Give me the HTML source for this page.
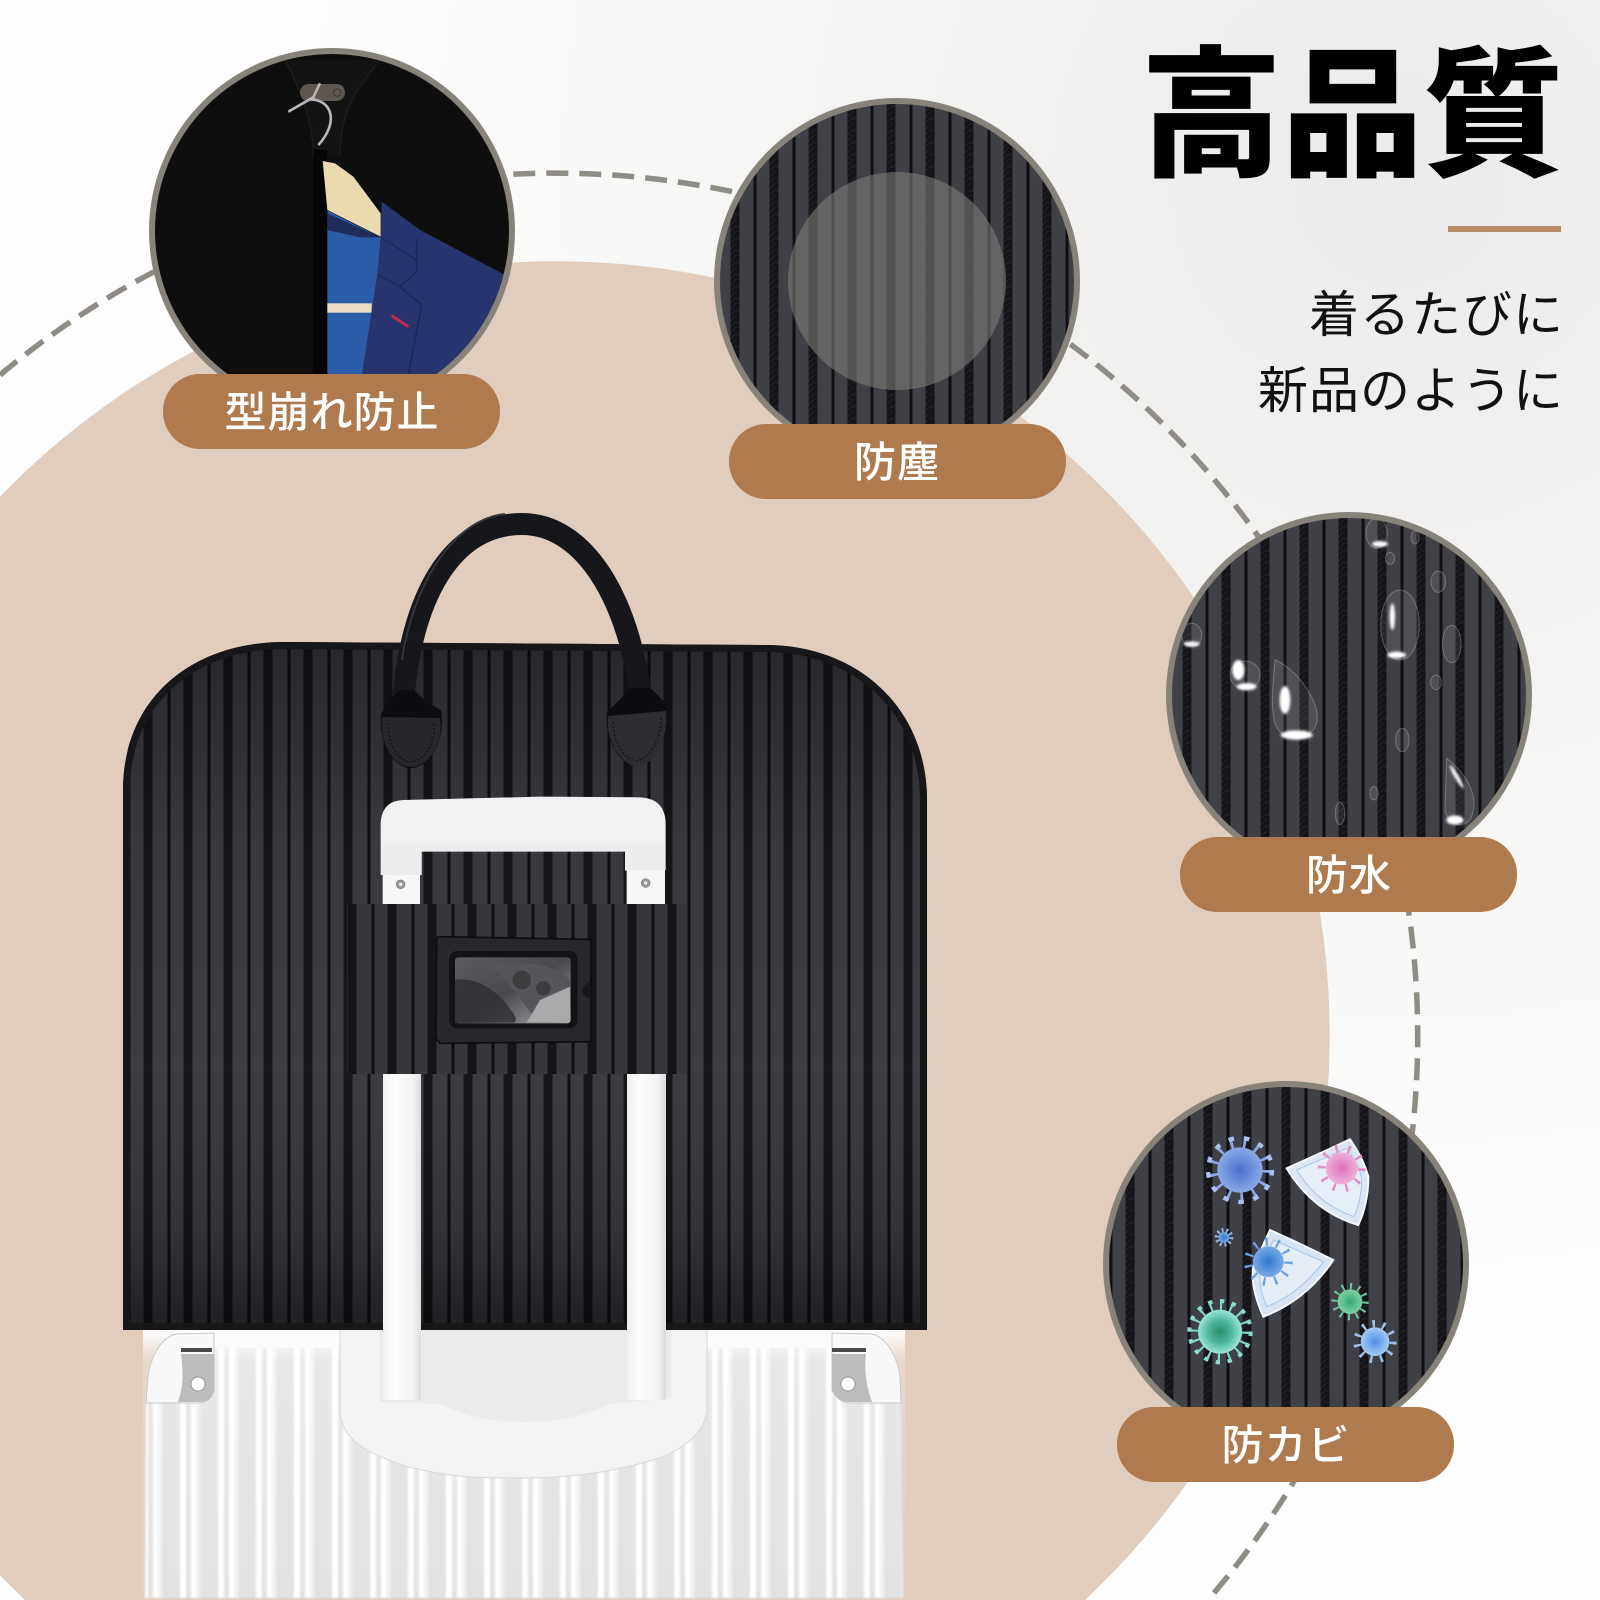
<!DOCTYPE html>
<html lang="ja"><head><meta charset="utf-8"><title>高品質</title>
<style>html,body{margin:0;padding:0;background:#f6f6f5;width:1600px;height:1600px;overflow:hidden}svg{display:block}
text{font-family:"Liberation Sans","Noto Sans CJK JP",sans-serif}</style></head>
<body>
<svg xmlns="http://www.w3.org/2000/svg" width="1600" height="1600" viewBox="0 0 1600 1600">
<defs>
<radialGradient id="bg" gradientUnits="userSpaceOnUse" cx="1400" cy="180" r="1100"><stop offset="0" stop-color="#ecebe9"/><stop offset=".55" stop-color="#f5f5f4"/><stop offset="1" stop-color="#fdfdfd"/></radialGradient>
<pattern id="fab" patternUnits="userSpaceOnUse" width="39" height="12">
<rect width="39" height="12" fill="#404047"/><rect width="9" height="12" fill="#131318"/><rect x="23" width="3" height="12" fill="#0e0e13"/>
<path d="M0,3 L3,0 M3,6 L6,3 M0,9 L3,6 M6,12 L9,9 M3,12 L6,9" stroke="#222228" stroke-width="1"/>
</pattern>
<pattern id="bagfab" patternUnits="userSpaceOnUse" width="40" height="12" x="143.5">
<rect width="40" height="12" fill="#3e3e44"/><rect width="9" height="12" fill="#17171c"/><rect x="24" width="3" height="12" fill="#0f0f13"/>
</pattern>
<linearGradient id="bagshade" x1="0" y1="0" x2="0" y2="1"><stop offset="0" stop-color="#000" stop-opacity=".36"/><stop offset=".3" stop-color="#000" stop-opacity=".1"/><stop offset=".62" stop-color="#000" stop-opacity=".02"/><stop offset=".85" stop-color="#000" stop-opacity=".18"/><stop offset="1" stop-color="#000" stop-opacity=".5"/></linearGradient>
<pattern id="rib" patternUnits="userSpaceOnUse" width="38" height="10" x="370">
<rect width="38" height="10" fill="#e2e2e2"/><rect width="6" height="10" fill="#fff"/><rect x="11" width="5" height="10" fill="#fff"/><rect x="16" width="4" height="10" fill="#f2f2f2"/>
</pattern>
<linearGradient id="fade" x1="0" y1="0" x2="0" y2="1"><stop offset="0" stop-color="#fff" stop-opacity=".95"/><stop offset=".12" stop-color="#fff" stop-opacity=".2"/><stop offset="1" stop-color="#fff" stop-opacity="0"/></linearGradient>
<linearGradient id="post" x1="0" y1="0" x2="1" y2="0"><stop offset="0" stop-color="#efefef"/><stop offset=".3" stop-color="#fefefe"/><stop offset=".8" stop-color="#f2f2f2"/><stop offset="1" stop-color="#dcdcdc"/></linearGradient>
<linearGradient id="win" x1="0" y1="0" x2="1" y2="1"><stop offset="0" stop-color="#5c5c60"/><stop offset=".5" stop-color="#4a4a4e"/><stop offset="1" stop-color="#a8a8aa"/></linearGradient>
<radialGradient id="vb"><stop offset="0" stop-color="#4a72cc"/><stop offset="1" stop-color="#8aa8e6"/></radialGradient>
<radialGradient id="vp"><stop offset="0" stop-color="#e070bc"/><stop offset="1" stop-color="#eeb0da"/></radialGradient>
<radialGradient id="vm"><stop offset="0" stop-color="#2f78d0"/><stop offset="1" stop-color="#78aae6"/></radialGradient>
<radialGradient id="vt"><stop offset="0" stop-color="#2a8c68"/><stop offset=".5" stop-color="#4ab49a"/><stop offset="1" stop-color="#9ae6d8"/></radialGradient>
<radialGradient id="vg"><stop offset="0" stop-color="#3aa872"/><stop offset="1" stop-color="#7cd2a4"/></radialGradient>
<radialGradient id="vl"><stop offset="0" stop-color="#4a90e8"/><stop offset="1" stop-color="#a4cbf4"/></radialGradient>
<filter id="b1"><feGaussianBlur stdDeviation="1"/></filter>
<filter id="b3"><feGaussianBlur stdDeviation="4"/></filter>
<clipPath id="c1"><circle cx="332" cy="231" r="177"/></clipPath>
<clipPath id="bagclip"><path d="M123,790 C123,700 190,642 285,642 L765,645 C860,645 927,710 927,800 L927,1330 L123,1330 Z"/></clipPath>
</defs>

<rect width="1600" height="1600" fill="url(#bg)"/>
<path d="M0,496.5 A774,774 0 1 1 1085,1600 L25,1600 L0,1575.5 Z" fill="#e0cdbe"/>
<path d="M0,375 A863,863 0 0 1 1208,1600" fill="none" stroke="#8f8c85" stroke-width="5.5" stroke-dasharray="22 11"/>

<!-- suitcase -->
<clipPath id="page"><rect width="1600" height="1600"/></clipPath>
<path d="M145,1598 L146,1405 L148,1377 C152,1350 165,1335 180,1333 L880,1333 C892,1340 900,1360 901,1400 L903,1598 Z" fill="url(#rib)" filter="url(#b1)"/>
<rect x="143" y="1330" width="762" height="270" fill="url(#fade)"/>
<rect x="214" y="1330" width="618" height="18" fill="#fbfbfb"/>
<!-- corners -->
<path d="M146,1403 L148,1377 C152,1350 165,1335 178,1334 L214,1333 L214,1390 C212,1398 207,1402 200,1403 Z" fill="#f8f8f8" stroke="#c8c8c8"/>
<path d="M181,1354 L214,1354 L214,1390 C212,1398 207,1402 200,1402 L178,1402 C184,1385 183,1370 181,1354 Z" fill="#bcbcbc"/>
<rect x="181" y="1348" width="31" height="4" fill="#4a4a4a"/><circle cx="198" cy="1384" r="7" fill="#fff" stroke="#999"/>
<path d="M901,1403 L900,1377 C896,1350 883,1335 870,1334 L832,1333 L832,1390 C836,1398 841,1402 848,1403 Z" fill="#f8f8f8" stroke="#c8c8c8"/>
<path d="M866,1354 L832,1354 L832,1390 C836,1398 841,1402 848,1402 L872,1402 C866,1385 864,1370 866,1354 Z" fill="#bcbcbc"/>
<rect x="832" y="1348" width="34" height="4" fill="#4a4a4a"/><circle cx="848" cy="1384" r="7" fill="#fff" stroke="#999"/>
<!-- U base -->
<path d="M340,1325 L340,1415 C345,1445 375,1455 405,1466 C450,1478 480,1478 525,1478 C580,1478 620,1470 660,1458 C690,1445 705,1430 707,1410 L707,1325 Z" fill="#f3f3f3" stroke="#d8d8d8"/>
<path d="M380,1325 L380,1402 L440,1404 C470,1418 500,1422 525,1422 C555,1422 585,1416 610,1404 L671,1398 L671,1325 Z" fill="#ebebeb"/>

<!-- bag -->
<g clip-path="url(#bagclip)">
<rect x="123" y="640" width="804" height="692" fill="url(#bagfab)"/>
<rect x="123" y="640" width="804" height="692" fill="url(#bagshade)"/>
<path d="M123,790 C123,700 190,642 285,642 L765,645 C860,645 927,710 927,800 L927,1330 L123,1330 Z" fill="none" stroke="#17171a" stroke-width="14"/>
</g>

<!-- handle -->
<path d="M403,705 C410,600 450,524 522,524 C585,524 630,600 642,705" fill="none" stroke="#16171b" stroke-width="22"/>
<path d="M402,660 C412,590 450,520 505,514" fill="none" stroke="#33353b" stroke-width="2"/>
<path d="M381,714 Q392,696 400,690 L414,690 Q425,702 441,710 C446,740 430,768 411,768 C392,768 378,740 381,714 Z" fill="#0d0d11"/>
<path d="M382,717 L440,718 C444,742 429,767 411,767 C393,767 379,742 382,717 Z" fill="#26272b"/>
<path d="M388,723 C388,745 398,761 411,762 C424,761 435,745 434,723" fill="none" stroke="#0c0c0f" stroke-width="1" stroke-dasharray="2 2"/>
<path d="M607,712 Q620,700 630,688 L650,688 Q658,695 666,704 C670,735 650,767 637,767 C620,765 604,740 607,712 Z" fill="#0d0d11"/>
<path d="M608,716 L666,711 C669,737 654,766 637,767 C622,765 605,742 608,716 Z" fill="#2c2d31"/>
<path d="M613,722 C614,745 625,760 637,761 C650,758 662,738 661,716" fill="none" stroke="#0c0c0f" stroke-width="1" stroke-dasharray="2 2"/>

<!-- trolley -->
<rect x="383" y="1060" width="38" height="340" fill="url(#post)"/>
<rect x="627" y="1060" width="39" height="340" fill="url(#post)"/>
<g transform="translate(340,780) scale(.33333)">
<rect x="128" y="270" width="112" height="110" fill="#f6f6f6"/>
<rect x="860" y="260" width="115" height="125" fill="#f6f6f6"/>
<path d="M122,285 L122,130 Q125,62 190,60 L600,50 L900,52 Q975,55 977,130 L977,270 L855,272 L855,215 L245,215 L245,285 Z" fill="#f1f1f1"/>
<path d="M130,190 L970,190 L975,270 L855,270 L855,212 L245,212 L245,285 L125,285 Z" fill="#e9e9e9" opacity=".7"/>
<circle cx="182" cy="313" r="13" fill="#999" stroke="#777" stroke-width="2"/><circle cx="182" cy="313" r="5" fill="#eee"/>
<circle cx="917" cy="309" r="13" fill="#999" stroke="#777" stroke-width="2"/><circle cx="917" cy="309" r="5" fill="#eee"/>
</g>
<!-- patch -->
<clipPath id="patch"><rect x="347" y="904" width="340" height="170"/></clipPath>
<g clip-path="url(#patch)"><g transform="translate(4,0)"><rect x="340" y="900" width="350" height="180" fill="url(#bagfab)"/></g><rect x="340" y="900" width="350" height="180" fill="#000" opacity=".12"/></g>
<g transform="translate(340,780) scale(.33333)">
<path d="M290,478 Q290,470 300,470 L752,478 L752,785 L300,790 L288,775 Z" fill="#27272c" stroke="#0e0e11" stroke-width="5"/>
<rect x="328" y="513" width="384" height="232" rx="24" fill="#131316"/>
<rect x="345" y="532" width="347" height="198" rx="10" fill="url(#win)"/>
<path d="M345,600 C400,590 450,620 490,660 C520,700 540,720 520,728 L345,728 Z" fill="#2e2e32" opacity=".8"/>
<path d="M445,555 C520,540 640,545 690,600 L690,640 C640,660 600,700 590,720 C540,660 500,590 445,555 Z" fill="#55555a"/>
<circle cx="545" cy="600" r="28" fill="#333" opacity=".7"/><circle cx="610" cy="625" r="22" fill="#333" opacity=".7"/>
<path d="M600,660 L690,620 L690,725 L560,728 Z" fill="#aaaaac"/>
<path d="M752,608 A24,24 0 0 0 752,656" fill="#17171b"/>
</g>

<!-- circle 1 -->
<circle cx="332" cy="231" r="183" fill="#87827a"/>
<g clip-path="url(#c1)"><g transform="translate(100,0) scale(.33333)">
<rect x="100" y="100" width="1200" height="1100" fill="#0e0e0f"/>
<path d="M555,180 C620,300 640,400 640,470 L720,470 C720,320 780,260 840,180 Z" fill="#131314"/>
<path d="M555,180 C620,300 640,400 640,470 M840,180 C780,260 720,320 720,470" fill="none" stroke="#222223" stroke-width="3"/>
<rect x="600" y="252" width="135" height="51" rx="25" fill="#5e574f"/>
<circle cx="712" cy="278" r="11" fill="none" stroke="#3c3833" stroke-width="3"/>
<path d="M565,335 L640,292 L660,250 M630,298 C700,300 715,370 655,435" fill="none" stroke="#b7b7ba" stroke-width="8"/>
<rect x="640" y="450" width="42" height="680" fill="#050505"/>
<path d="M668,483 L705,490 L760,530 L842,640 L842,710 L682,630 Z" fill="#e9dab0"/>
<path d="M682,632 L842,712 L835,800 L790,1130 L682,1130 Z" fill="#2c5ca8"/>
<path d="M682,640 L842,712 L780,712 L682,690 Z" fill="#1f2b58"/>
<rect x="682" y="910" width="133" height="28" fill="#e9ddc6"/>
<path d="M845,605 L960,690 L1215,825 L1260,1000 L1100,1130 L785,1130 L835,800 L842,710 Z" fill="#28346e"/>
<path d="M950,715 L950,815 L900,860 L965,915 L925,1125" fill="none" stroke="#1e2858" stroke-width="5"/>
<path d="M835,825 L900,860 M842,712 L950,780" fill="none" stroke="#1e2858" stroke-width="4"/>
<path d="M875,947 L925,980" stroke="#c12a4c" stroke-width="9"/>
</g></g>

<!-- circle 2 -->
<circle cx="897" cy="281" r="183" fill="#87827a"/>
<clipPath id="c2"><circle cx="897" cy="281" r="177"/></clipPath>
<g clip-path="url(#c2)"><g transform="translate(886.5,0)"><rect x="-200" y="90" width="400" height="400" fill="url(#fab)"/></g></g>
<circle cx="897" cy="281" r="109" fill="#7c7974" opacity=".62"/>

<!-- circle 3 -->
<circle cx="1349" cy="695" r="183" fill="#87827a"/>
<clipPath id="c3"><circle cx="1349" cy="695" r="177"/></clipPath>
<g clip-path="url(#c3)"><g transform="translate(1338.5,0)"><rect x="-200" y="500" width="400" height="400" fill="url(#fab)"/></g>
<g transform="translate(1160,510) scale(.33333)" fill="#fff" fill-opacity=".08" stroke="#fff" stroke-opacity=".25" stroke-width="3">
<path d="M345,450 C340,520 330,580 345,640 C365,700 450,700 470,640 C485,570 400,470 345,450 Z"/>
<ellipse cx="720" cy="345" rx="58" ry="105"/><ellipse cx="875" cy="402" rx="28" ry="56"/>
<path d="M860,745 C930,800 960,870 930,930 C900,960 860,940 855,900 Z"/><ellipse cx="255" cy="495" rx="45" ry="42"/><ellipse cx="95" cy="375" rx="30" ry="35"/>
<ellipse cx="835" cy="215" rx="22" ry="32"/><ellipse cx="828" cy="517" rx="16" ry="22"/><ellipse cx="727" cy="690" rx="20" ry="35"/>
<ellipse cx="650" cy="70" rx="32" ry="45"/><ellipse cx="540" cy="910" rx="14" ry="34"/><ellipse cx="642" cy="850" rx="12" ry="20"/><ellipse cx="690" cy="145" rx="14" ry="18"/><ellipse cx="765" cy="82" rx="12" ry="20"/>
</g>
<g transform="translate(1160,510) scale(.33333)" fill="#fff" filter="url(#b3)">
<ellipse cx="375" cy="570" rx="16" ry="42"/><ellipse cx="410" cy="675" rx="48" ry="14"/><ellipse cx="235" cy="480" rx="18" ry="30"/><ellipse cx="260" cy="530" rx="30" ry="11"/>
<ellipse cx="710" cy="435" rx="28" ry="10"/><ellipse cx="697" cy="320" rx="8" ry="40"/><ellipse cx="885" cy="930" rx="26" ry="14"/><ellipse cx="660" cy="102" rx="24" ry="9"/><ellipse cx="95" cy="402" rx="24" ry="8"/><ellipse cx="890" cy="800" rx="6" ry="40" transform="rotate(-30 890 800)"/>
</g></g>

<!-- circle 4 -->
<circle cx="1286" cy="1264" r="183" fill="#87827a"/>
<clipPath id="c4"><circle cx="1286" cy="1264" r="177"/></clipPath>
<g clip-path="url(#c4)"><g transform="translate(1281.5,0)"><rect x="-200" y="1070" width="400" height="400" fill="url(#fab)"/></g></g>
<g transform="translate(1100,1080) scale(.33333)">
<path d="M560,265 Q650,225 750,178 Q790,235 805,290 Q805,370 775,435 Q640,395 560,265 Z" fill="#dbe6f3" stroke="#f5f8fc" stroke-width="6"/>
<path d="M590,270 Q670,235 740,205 Q775,250 785,295 Q785,360 762,410 Q650,370 590,270 Z" fill="#e6eef7" stroke="#aac4e4" stroke-width="3"/>
<path d="M510,450 Q600,490 700,540 Q620,660 490,710 Q450,620 460,560 Z" fill="#d6e3f2" stroke="#f5f8fc" stroke-width="6"/>
<path d="M520,480 Q600,515 670,545 Q600,640 500,680 Q475,620 480,570 Z" fill="#e4edf6" stroke="#aac4e4" stroke-width="3"/>
<g transform="translate(420,270)"><circle r="82" fill="none" stroke="#8aa6e4" stroke-width="34" pathLength="13" stroke-dasharray=".22 .78"/><circle r="96" fill="none" stroke="#a9c0f0" stroke-width="13" pathLength="13" stroke-dasharray=".36 .64"/><circle r="68" fill="url(#vb)"/></g>
<g transform="translate(725,265)"><circle r="60" fill="none" stroke="#e48cc8" stroke-width="24" pathLength="10" stroke-dasharray=".2 .8"/><circle r="48" fill="url(#vp)"/></g>
<g transform="translate(505,545)"><circle r="60" fill="none" stroke="#6f9fde" stroke-width="26" pathLength="11" stroke-dasharray=".2 .8"/><circle r="46" fill="url(#vm)"/></g>
<g transform="translate(372,472)"><circle r="22" fill="none" stroke="#9bbcea" stroke-width="12" pathLength="10" stroke-dasharray=".4 .6"/><circle r="16" fill="url(#vm)"/></g>
<g transform="translate(360,755)"><circle r="78" fill="none" stroke="#7fd5c6" stroke-width="34" pathLength="16" stroke-dasharray=".22 .78"/><circle r="92" fill="none" stroke="#8adccd" stroke-width="12" pathLength="16" stroke-dasharray=".36 .64"/><circle r="66" fill="url(#vt)"/></g>
<g transform="translate(750,665)"><circle r="46" fill="none" stroke="#6cc69a" stroke-width="20" pathLength="12" stroke-dasharray=".25 .75"/><circle r="37" fill="url(#vg)"/></g>
<g transform="translate(825,785)"><circle r="54" fill="none" stroke="#9cc0ea" stroke-width="22" pathLength="11" stroke-dasharray=".25 .75"/><circle r="43" fill="url(#vl)"/></g>
</g>

<!-- pills -->
<rect x="163" y="374" width="337" height="75" rx="37" fill="#ae7a4e"/>
<rect x="729" y="424" width="337" height="75" rx="37" fill="#ae7a4e"/>
<rect x="1180" y="837" width="337" height="75" rx="37" fill="#ae7a4e"/>
<rect x="1117" y="1407" width="337" height="75" rx="37" fill="#ae7a4e"/>
<g fill="#fff" font-size="42" text-anchor="middle" font-weight="500" letter-spacing="1">
<text x="332" y="427">型崩れ防止</text>
<text x="897" y="477">防塵</text>
<text x="1349" y="890">防水</text>
<text x="1286" y="1460">防カビ</text>
</g>

<!-- heading -->
<text x="1564" y="165" font-size="141" font-weight="900" text-anchor="end" fill="#000">高品質</text>
<rect x="1448" y="226" width="113" height="6" fill="#b68a64"/>
<g font-size="50" text-anchor="end" fill="#111" font-weight="400" letter-spacing="1">
<text x="1564" y="332">着るたびに</text>
<text x="1564" y="408">新品のように</text>
</g>
</svg>
</body></html>
